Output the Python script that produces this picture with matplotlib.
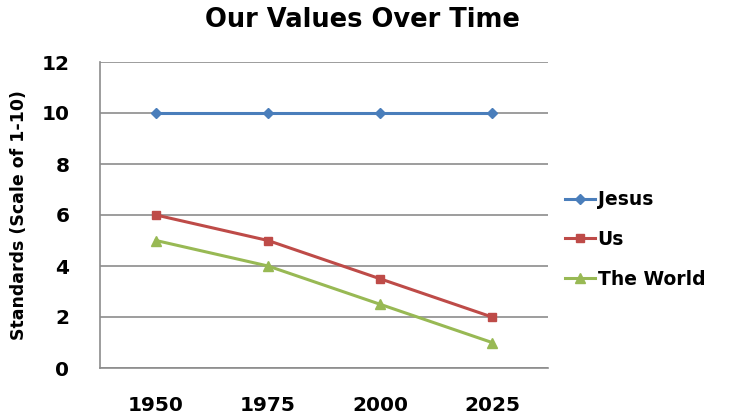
import matplotlib
matplotlib.use("Agg")
import matplotlib.pyplot as plt

years = ["1950", "1975", "2000", "2025"]
jesus = [10, 10, 10, 10]
us = [6, 5, 3.5, 2]
world = [5, 4, 2.5, 1]
yticks = [0, 2, 4, 6, 8, 10, 12]

plt.rcParams['font.family'] = ['DejaVu Sans']
fig = plt.figure(figsize=(7.3, 4.2), dpi=100)
ax = fig.add_axes([100/730, 52/420, 448/730, 306/420])

x = range(len(years))
ax.plot(x, jesus, color="#4A7EBB", marker="D", markersize=5, lw=2.2, label="Jesus")
ax.plot(x, us, color="#BE4B48", marker="s", markersize=6, lw=2.2, label="Us")
ax.plot(x, world, color="#98B954", marker="^", markersize=7, lw=2.2, label="The World")

ax.set_xlim(-0.5, 3.5)
ax.set_ylim(0, 12)
ax.set_yticks(yticks)
ax.set_xticks(list(x))
ax.set_xticklabels(years)
ax.yaxis.grid(True, color="#8C8C8C", lw=1.2)
ax.set_axisbelow(True)
for s in ["top", "right"]:
    ax.spines[s].set_visible(False)
for s in ["left", "bottom"]:
    ax.spines[s].set_color("#8C8C8C")
    ax.spines[s].set_linewidth(1.2)
ax.tick_params(length=0, labelsize=14.5)
for lab in ax.get_xticklabels() + ax.get_yticklabels():
    lab.set_fontweight("heavy")
ax.tick_params(axis="x", pad=20)
ax.tick_params(axis="y", pad=22)
ax.set_ylabel("Standards (Scale of 1-10)", fontsize=12.5, fontweight="heavy", labelpad=10)
fig.suptitle("Our Values Over Time", fontsize=18.5, fontweight="heavy", x=362/730, y=1-20/420, va="center")
leg = ax.legend(loc="center left", bbox_to_anchor=(1.0, 0.42), frameon=False,
                prop={"weight": "heavy", "size": 13.5}, handlelength=1.6, labelspacing=1.1,
                handletextpad=0.15, borderaxespad=0.5)
fig.savefig("out.png", dpi=100)
